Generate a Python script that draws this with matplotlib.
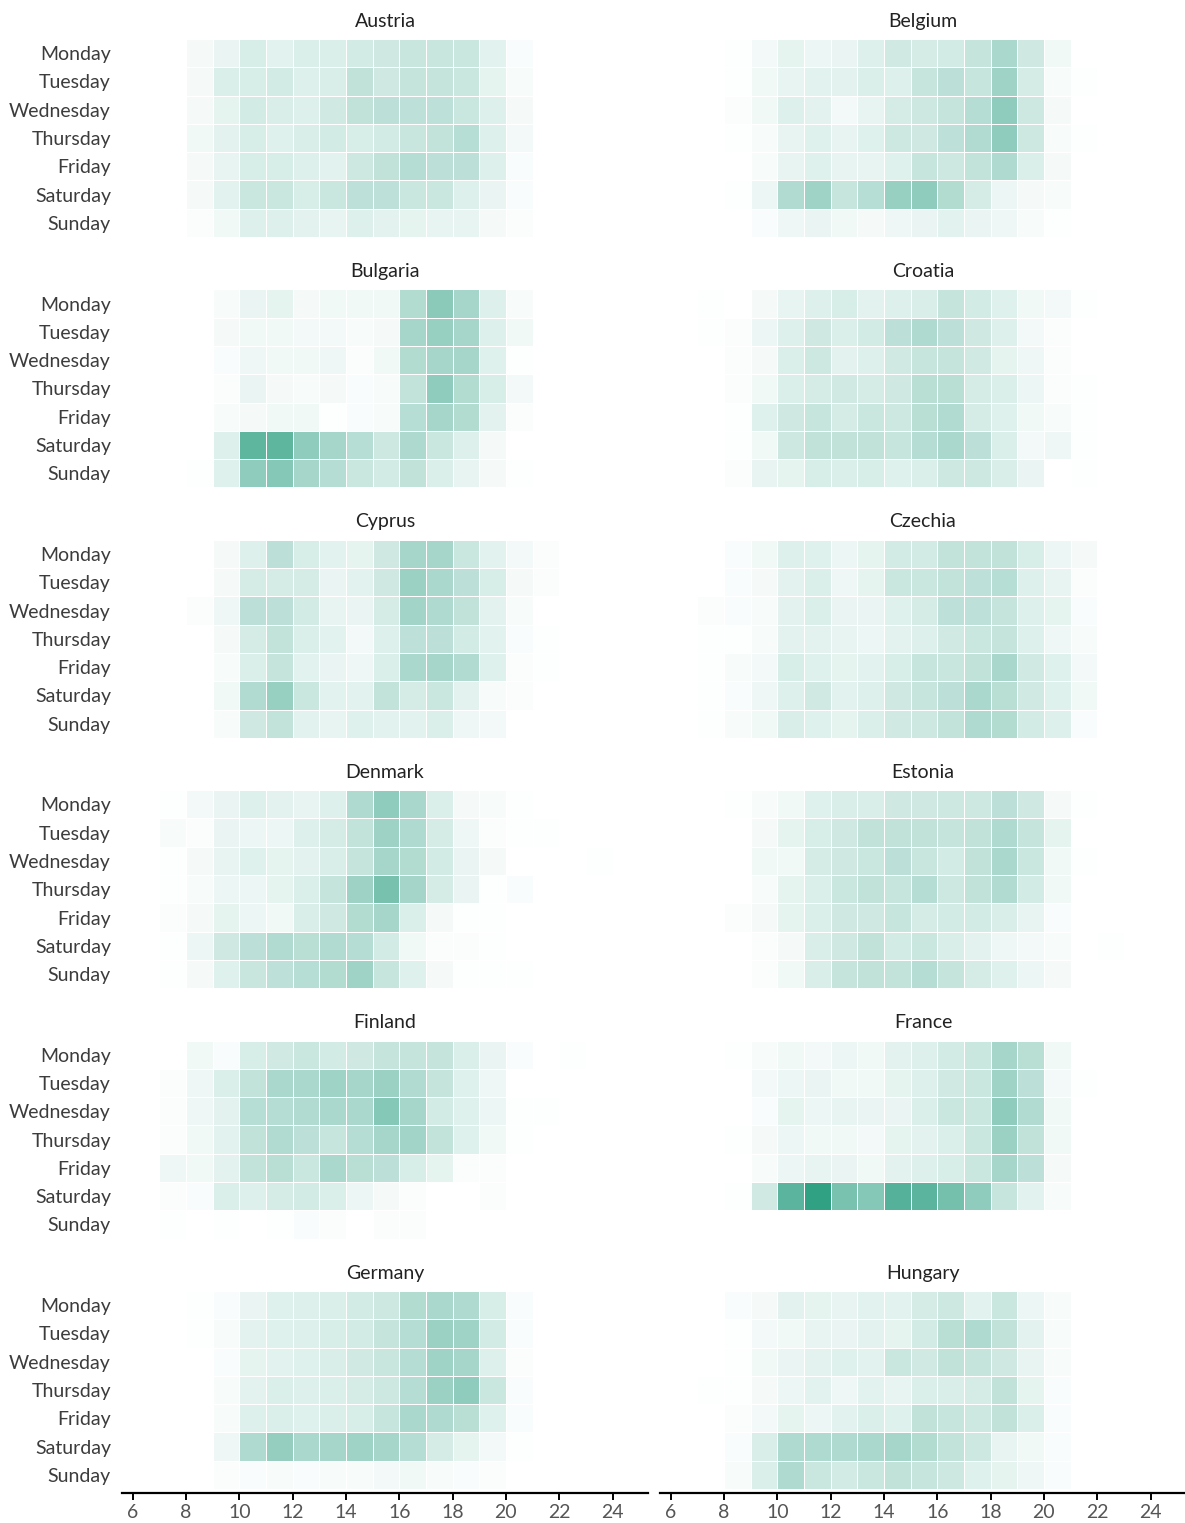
import numpy as np
import matplotlib.pyplot as plt
from matplotlib.colors import LinearSegmentedColormap

plt.rcParams['font.family'] = ['Lato', 'DejaVu Sans']

#%% 데이터 (값 = 최대 대비 %, 열 = 6시 ~ 23시)
days = ['Monday', 'Tuesday', 'Wednesday', 'Thursday', 'Friday', 'Saturday', 'Sunday']
hours = list(range(6, 24))
countries = ['Austria', 'Belgium', 'Bulgaria', 'Croatia', 'Cyprus', 'Czechia',
             'Denmark', 'Estonia', 'Finland', 'France', 'Germany', 'Hungary']

austria = [[0, 0, 5, 10, 19, 14, 17, 17, 21, 23, 26, 26, 25, 14, 3, 0, 0, 0],
           [0, 0, 5, 17, 19, 21, 16, 18, 30, 23, 28, 28, 25, 12, 4, 0, 0, 0],
           [0, 0, 5, 12, 21, 18, 16, 22, 30, 32, 31, 31, 25, 16, 5, 0, 0, 0],
           [0, 0, 7, 13, 19, 15, 18, 21, 19, 21, 26, 29, 34, 16, 6, 0, 0, 0],
           [0, 0, 5, 11, 19, 19, 16, 14, 24, 30, 35, 32, 32, 16, 3, 0, 0, 0],
           [0, 0, 5, 14, 25, 25, 19, 25, 31, 31, 25, 25, 16, 10, 3, 0, 0, 0],
           [0, 0, 2, 7, 16, 16, 13, 11, 16, 13, 12, 11, 11, 5, 2, 0, 0, 0]]

belgium = [[0, 0, 1, 6, 12, 9, 10, 16, 22, 20, 21, 28, 40, 23, 7, 0, 0, 0],
           [0, 0, 1, 7, 11, 14, 13, 17, 16, 27, 32, 27, 45, 20, 4, 1, 0, 0],
           [0, 0, 2, 7, 16, 13, 6, 11, 20, 24, 28, 35, 52, 24, 5, 0, 0, 0],
           [0, 0, 1, 4, 11, 15, 11, 15, 24, 23, 31, 37, 52, 24, 4, 1, 0, 0],
           [0, 0, 0, 4, 11, 15, 11, 11, 15, 27, 24, 29, 38, 17, 5, 0, 0, 0],
           [0, 0, 1, 9, 37, 45, 27, 34, 49, 52, 36, 20, 9, 5, 4, 0, 0, 0],
           [0, 0, 0, 3, 8, 10, 7, 5, 8, 10, 14, 10, 8, 4, 1, 0, 0, 0]]

bulgaria = [[0, 0, 0, 4, 10, 12, 5, 7, 7, 7, 36, 55, 42, 16, 4, 0, 0, 0],
            [0, 0, 0, 5, 7, 7, 6, 6, 4, 5, 42, 49, 42, 16, 7, 0, 0, 0],
            [0, 0, 0, 3, 8, 7, 7, 8, 2, 7, 36, 42, 42, 15, 1, 0, 0, 0],
            [0, 0, 0, 2, 10, 5, 4, 5, 3, 4, 29, 52, 36, 19, 6, 0, 0, 0],
            [0, 0, 0, 4, 5, 7, 7, 1, 3, 4, 34, 42, 36, 13, 2, 0, 0, 0],
            [0, 0, 0, 16, 75, 75, 52, 42, 34, 24, 39, 25, 16, 5, 0, 0, 0, 0],
            [0, 0, 1, 15, 52, 57, 42, 35, 25, 21, 30, 17, 11, 5, 1, 0, 0, 0]]

croatia = [[0, 1, 0, 5, 11, 16, 19, 13, 16, 18, 28, 21, 15, 7, 6, 1, 0, 0],
           [0, 1, 2, 9, 16, 23, 17, 21, 32, 38, 32, 23, 16, 6, 2, 0, 0, 0],
           [0, 0, 2, 5, 17, 24, 13, 16, 22, 27, 28, 22, 12, 8, 2, 0, 0, 0],
           [0, 0, 2, 7, 17, 20, 22, 20, 23, 33, 33, 20, 17, 9, 2, 1, 0, 0],
           [0, 0, 1, 15, 23, 27, 20, 25, 24, 33, 37, 20, 15, 7, 4, 1, 0, 0],
           [0, 0, 1, 7, 24, 30, 30, 30, 27, 35, 40, 32, 17, 6, 8, 1, 0, 0],
           [0, 0, 2, 11, 12, 19, 17, 19, 15, 17, 24, 24, 18, 10, 0, 1, 0, 0]]

cyprus = [[0, 0, 0, 5, 16, 32, 19, 14, 12, 23, 42, 42, 25, 14, 6, 2, 0, 0],
          [0, 0, 0, 5, 20, 20, 20, 10, 14, 23, 48, 40, 32, 19, 5, 2, 0, 0],
          [0, 0, 2, 8, 32, 32, 21, 11, 10, 20, 44, 38, 30, 13, 4, 0, 0, 0],
          [0, 0, 0, 5, 20, 29, 17, 14, 6, 16, 31, 32, 21, 14, 3, 1, 0, 0],
          [0, 0, 0, 4, 17, 28, 14, 10, 8, 17, 40, 42, 37, 15, 2, 1, 0, 0],
          [0, 0, 0, 7, 37, 49, 25, 14, 14, 29, 20, 25, 13, 4, 2, 0, 0, 0],
          [0, 0, 0, 4, 23, 29, 14, 11, 15, 14, 14, 17, 8, 6, 0, 0, 0, 0]]

czechia = [[0, 0, 3, 7, 16, 15, 9, 12, 21, 21, 29, 29, 30, 19, 9, 5, 0, 0],
           [0, 0, 3, 5, 13, 17, 8, 12, 25, 25, 29, 31, 34, 16, 11, 2, 0, 0],
           [0, 2, 3, 4, 13, 17, 10, 10, 15, 20, 31, 31, 28, 16, 12, 3, 0, 0],
           [0, 1, 1, 4, 13, 13, 11, 9, 13, 16, 22, 25, 28, 16, 8, 4, 0, 0],
           [0, 1, 4, 6, 19, 15, 12, 14, 19, 27, 26, 30, 41, 22, 15, 6, 0, 0],
           [0, 1, 3, 8, 16, 22, 14, 16, 23, 27, 32, 40, 33, 22, 15, 7, 0, 0],
           [0, 1, 4, 7, 18, 15, 12, 17, 22, 24, 29, 38, 36, 21, 16, 3, 0, 0]]

denmark = [[0, 1, 6, 10, 16, 13, 11, 16, 38, 52, 41, 17, 5, 4, 1, 0, 0, 0],
           [0, 4, 2, 10, 9, 9, 16, 20, 29, 46, 38, 20, 8, 2, 1, 1, 0, 0],
           [0, 1, 5, 11, 15, 12, 13, 18, 28, 42, 36, 21, 10, 5, 0, 0, 0, 1],
           [0, 1, 4, 9, 9, 12, 17, 28, 46, 64, 43, 20, 10, 1, 3, 0, 0, 0],
           [0, 2, 5, 12, 9, 7, 18, 23, 36, 42, 17, 5, 1, 1, 0, 0, 0, 0],
           [0, 1, 9, 23, 32, 37, 33, 37, 35, 21, 7, 2, 2, 1, 0, 0, 0, 0],
           [0, 1, 5, 15, 26, 31, 34, 36, 45, 27, 15, 5, 1, 1, 1, 0, 0, 0]]

estonia = [[0, 0, 1, 4, 7, 15, 18, 18, 23, 23, 24, 24, 32, 23, 5, 1, 0, 0],
           [0, 0, 0, 5, 12, 19, 23, 30, 30, 30, 28, 30, 38, 28, 12, 0, 0, 0],
           [0, 0, 0, 7, 7, 20, 23, 25, 32, 26, 21, 30, 40, 25, 7, 1, 0, 0],
           [0, 0, 0, 4, 12, 17, 25, 30, 27, 35, 24, 30, 37, 21, 7, 0, 0, 0],
           [0, 0, 2, 5, 12, 17, 23, 23, 27, 20, 21, 21, 18, 11, 3, 0, 0, 0],
           [0, 0, 0, 2, 5, 18, 23, 30, 21, 25, 18, 13, 8, 6, 4, 0, 1, 0],
           [0, 0, 0, 2, 7, 18, 28, 30, 29, 35, 28, 20, 15, 9, 5, 0, 0, 0]]

finland = [[0, 0, 7, 3, 19, 22, 25, 21, 23, 28, 28, 28, 17, 10, 3, 0, 1, 0],
           [0, 2, 8, 17, 29, 40, 40, 45, 42, 48, 37, 28, 15, 8, 0, 0, 0, 0],
           [0, 2, 8, 13, 34, 35, 37, 40, 40, 57, 42, 21, 15, 9, 1, 1, 0, 0],
           [0, 2, 7, 14, 30, 37, 32, 27, 35, 42, 44, 29, 15, 7, 1, 0, 0, 0],
           [0, 8, 7, 13, 29, 33, 25, 40, 33, 32, 19, 12, 2, 2, 0, 0, 0, 0],
           [0, 2, 3, 17, 16, 20, 21, 17, 9, 5, 2, 0, 0, 2, 0, 0, 0, 0],
           [0, 1, 0, 1, 0, 1, 3, 2, 0, 2, 2, 0, 0, 0, 0, 0, 0, 0]]

france = [[0, 0, 1, 4, 7, 6, 9, 7, 13, 16, 21, 25, 42, 33, 7, 0, 0, 0],
          [0, 0, 0, 6, 9, 10, 7, 7, 12, 16, 22, 25, 45, 32, 6, 1, 0, 0],
          [0, 0, 0, 3, 12, 9, 11, 10, 10, 17, 25, 25, 52, 37, 7, 0, 0, 0],
          [0, 0, 1, 5, 9, 7, 7, 6, 12, 13, 17, 25, 47, 30, 7, 0, 0, 0],
          [0, 0, 0, 4, 9, 11, 10, 7, 13, 16, 19, 25, 42, 32, 5, 0, 0, 0],
          [0, 0, 1, 22, 77, 97, 63, 57, 80, 77, 65, 52, 27, 14, 4, 0, 0, 0],
          [0, 0, 0, 0, 0, 0, 0, 0, 0, 0, 0, 0, 0, 0, 0, 0, 0, 0]]

germany = [[0, 0, 1, 3, 10, 15, 16, 17, 21, 24, 36, 40, 38, 19, 3, 0, 0, 0],
           [0, 0, 1, 4, 13, 15, 16, 19, 21, 28, 35, 48, 45, 21, 3, 0, 0, 0],
           [0, 0, 0, 3, 12, 14, 15, 18, 22, 26, 35, 45, 42, 16, 2, 0, 0, 0],
           [0, 0, 0, 4, 13, 17, 16, 17, 20, 24, 35, 48, 52, 25, 3, 0, 0, 0],
           [0, 0, 0, 4, 16, 17, 15, 17, 19, 27, 40, 38, 33, 15, 3, 0, 0, 0],
           [0, 0, 0, 8, 38, 50, 40, 42, 45, 42, 35, 20, 12, 6, 1, 0, 0, 0],
           [0, 0, 0, 2, 3, 4, 3, 4, 4, 6, 7, 4, 3, 2, 0, 0, 0, 0]]

hungary = [[0, 0, 3, 5, 13, 12, 11, 14, 14, 20, 24, 14, 25, 9, 4, 0, 0, 0],
           [0, 0, 1, 6, 7, 11, 10, 13, 12, 21, 33, 38, 30, 13, 4, 0, 0, 0],
           [0, 0, 1, 7, 10, 13, 15, 14, 25, 22, 30, 28, 23, 11, 4, 0, 0, 0],
           [0, 1, 1, 5, 9, 14, 8, 14, 11, 17, 18, 20, 30, 12, 3, 0, 0, 0],
           [0, 0, 2, 6, 12, 9, 14, 17, 15, 30, 27, 24, 30, 17, 3, 0, 0, 0],
           [0, 0, 3, 18, 38, 38, 38, 40, 42, 36, 29, 24, 11, 7, 3, 0, 0, 0],
           [0, 0, 4, 17, 38, 25, 21, 25, 30, 27, 24, 15, 12, 8, 3, 0, 0, 0]]

data = [austria, belgium, bulgaria, croatia, cyprus, czechia,
        denmark, estonia, finland, france, germany, hungary]

#%% 그래프 설정
cmap = LinearSegmentedColormap.from_list('grn', ['#ffffff', '#2b9e80'])
text_color = '#3c3c3c'

W, H = 1185, 1523  # 그림 크기(px)
fig = plt.figure(figsize=(W / 100, H / 100), dpi=100)

x_edges = np.array(hours + [hours[-1] + 1])
y_edges = np.arange(len(days) + 1)

for i, (name, vals) in enumerate(zip(countries, data)):
    row, col = i // 2, i % 2
    left = 122 if col == 0 else 660
    top = 39 + 250.4 * row
    ax = fig.add_axes([left / W, 1 - (top + 202) / H, 526 / W, 202 / H])

    z = np.array(vals) / 100
    ax.pcolormesh(x_edges, y_edges, z, cmap=cmap, vmin=0, vmax=1,
                  edgecolor='white', linewidth=0.6)

    ax.set_xlim(5.6, 25.33)
    ax.set_ylim(7.14, 0)
    ax.set_title(name, fontsize=14, color='#222222', pad=9)

    for s in ['top', 'right', 'left']:
        ax.spines[s].set_visible(False)

    # 요일 라벨은 왼쪽 열에만
    if col == 0:
        ax.set_yticks(np.arange(len(days)) + 0.5)
        ax.set_yticklabels(days, fontsize=14, color=text_color)
        ax.tick_params(axis='y', length=0, pad=8)
    else:
        ax.set_yticks([])

    # x축은 맨 아래 줄에만
    if row == 5:
        ax.spines['bottom'].set_linewidth(1.6)
        ax.spines['bottom'].set_color('black')
        ax.set_xticks(range(6, 25, 2))
        ax.tick_params(axis='x', length=5, width=1.4, color='black',
                       labelsize=14, labelcolor='#555555', pad=3)
    else:
        ax.spines['bottom'].set_visible(False)
        ax.set_xticks([])

plt.savefig('out.png', dpi=100)
